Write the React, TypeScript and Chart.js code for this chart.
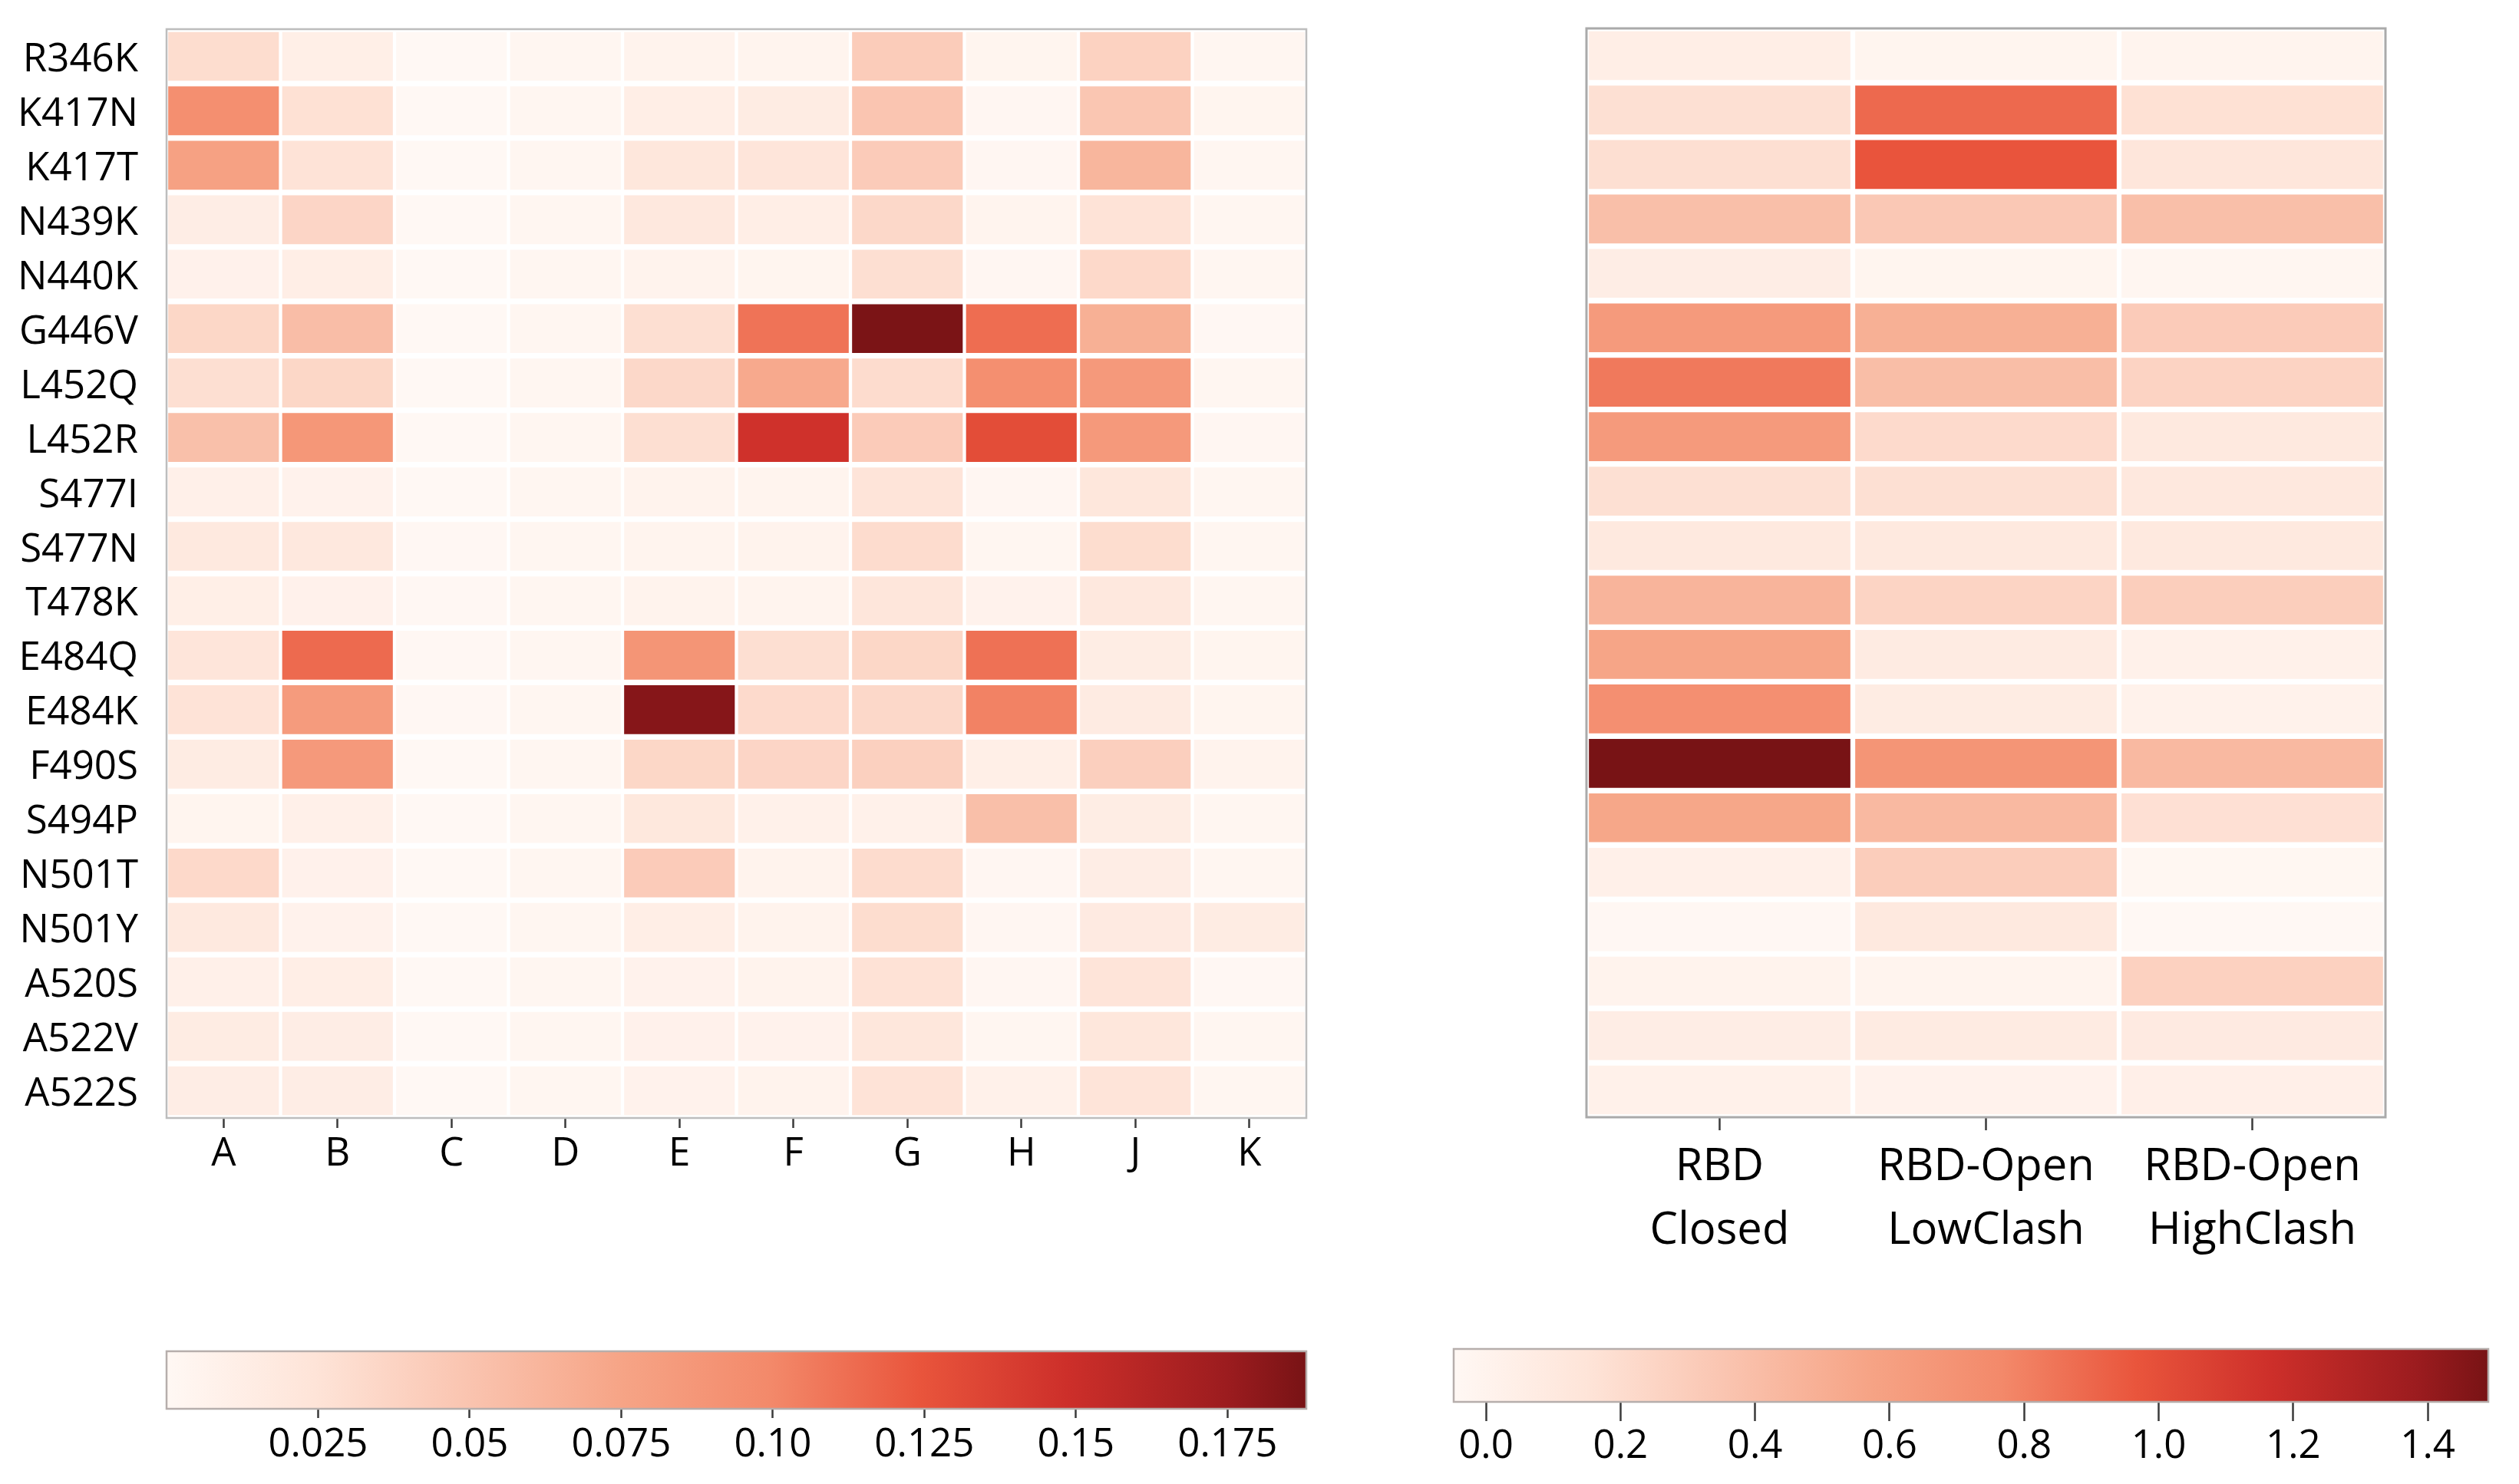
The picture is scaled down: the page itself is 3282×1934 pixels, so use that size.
import React, { useEffect, useRef } from 'react';
import { Chart, registerables } from 'chart.js';

Chart.register(...registerables);
Chart.defaults.font.family = "'Open Sans', 'Noto Sans', sans-serif";
Chart.defaults.color = '#000000';

// ---------- data ----------
const ROWS = [
  'R346K', 'K417N', 'K417T', 'N439K', 'N440K', 'G446V', 'L452Q', 'L452R', 'S477I', 'S477N',
  'T478K', 'E484Q', 'E484K', 'F490S', 'S494P', 'N501T', 'N501Y', 'A520S', 'A522V', 'A522S',
];

const ANTIBODY_COLS = ['A', 'B', 'C', 'D', 'E', 'F', 'G', 'H', 'J', 'K'];

const STATE_COLS = [
  ['RBD', 'Closed'],
  ['RBD-Open', 'LowClash'],
  ['RBD-Open', 'HighClash'],
];

// rows follow ROWS, columns follow ANTIBODY_COLS
const ANTIBODY_VALUES = [
  [0.030, 0.011, 0.000, 0.003, 0.006, 0.005, 0.043, 0.004, 0.039, 0.003],
  [0.094, 0.027, 0.000, 0.003, 0.012, 0.015, 0.049, 0.002, 0.048, 0.004],
  [0.078, 0.025, 0.000, 0.003, 0.021, 0.023, 0.044, 0.002, 0.061, 0.003],
  [0.013, 0.036, 0.000, 0.003, 0.019, 0.012, 0.034, 0.005, 0.025, 0.003],
  [0.008, 0.012, 0.000, 0.003, 0.006, 0.004, 0.028, 0.002, 0.033, 0.003],
  [0.035, 0.055, 0.000, 0.003, 0.028, 0.110, 0.187, 0.113, 0.066, 0.001],
  [0.028, 0.035, 0.000, 0.003, 0.034, 0.071, 0.031, 0.094, 0.085, 0.003],
  [0.053, 0.087, 0.000, 0.003, 0.028, 0.147, 0.044, 0.129, 0.085, 0.002],
  [0.010, 0.007, 0.000, 0.003, 0.006, 0.005, 0.024, 0.002, 0.021, 0.003],
  [0.018, 0.019, 0.001, 0.003, 0.005, 0.006, 0.031, 0.003, 0.030, 0.003],
  [0.011, 0.008, 0.001, 0.003, 0.006, 0.005, 0.022, 0.007, 0.019, 0.003],
  [0.023, 0.114, 0.001, 0.003, 0.089, 0.028, 0.035, 0.111, 0.014, 0.004],
  [0.025, 0.083, 0.001, 0.003, 0.183, 0.032, 0.034, 0.103, 0.016, 0.004],
  [0.015, 0.085, 0.000, 0.003, 0.035, 0.036, 0.040, 0.011, 0.041, 0.006],
  [0.004, 0.010, 0.000, 0.003, 0.020, 0.009, 0.009, 0.054, 0.014, 0.003],
  [0.033, 0.008, 0.000, 0.003, 0.044, 0.006, 0.031, 0.002, 0.013, 0.003],
  [0.018, 0.007, 0.000, 0.003, 0.012, 0.006, 0.030, 0.002, 0.017, 0.015],
  [0.010, 0.012, 0.000, 0.003, 0.007, 0.006, 0.026, 0.002, 0.024, 0.001],
  [0.015, 0.013, 0.000, 0.003, 0.008, 0.007, 0.021, 0.003, 0.021, 0.003],
  [0.013, 0.013, 0.000, 0.003, 0.007, 0.006, 0.025, 0.009, 0.024, 0.003],
];

// rows follow ROWS, columns follow STATE_COLS
const STATE_VALUES = [
  [0.05, -0.015, -0.005],
  [0.18, 0.89, 0.17],
  [0.185, 0.97, 0.13],
  [0.39, 0.33, 0.39],
  [0.06, -0.015, -0.025],
  [0.64, 0.49, 0.31],
  [0.83, 0.40, 0.26],
  [0.64, 0.215, 0.10],
  [0.18, 0.18, 0.11],
  [0.10, 0.10, 0.10],
  [0.46, 0.255, 0.295],
  [0.56, 0.08, 0.02],
  [0.72, 0.075, 0.015],
  [1.49, 0.68, 0.43],
  [0.55, 0.43, 0.175],
  [0.03, 0.30, -0.035],
  [-0.04, 0.10, -0.045],
  [0.0, -0.005, 0.275],
  [0.06, 0.08, 0.09],
  [0.02, 0.01, 0.04],
];

const ANTIBODY_RANGE = [0, 0.188];
const STATE_RANGE = [-0.048, 1.49];

const ANTIBODY_TICKS = [0.025, 0.05, 0.075, 0.1, 0.125, 0.15, 0.175];
const ANTIBODY_TICK_LABELS = ['0.025', '0.05', '0.075', '0.10', '0.125', '0.15', '0.175'];
const STATE_TICKS = [0, 0.2, 0.4, 0.6, 0.8, 1.0, 1.2, 1.4];
const STATE_TICK_LABELS = ['0.0', '0.2', '0.4', '0.6', '0.8', '1.0', '1.2', '1.4'];

const COLOR_STOPS: [number, string][] = [
  [0.0, '#fff8f4'],
  [0.13, '#fee4d8'],
  [0.26, '#fac5b1'],
  [0.4, '#f6a486'],
  [0.53, '#f3896a'],
  [0.66, '#e9553c'],
  [0.79, '#cd2f2a'],
  [0.93, '#9c1c1f'],
  [1.0, '#781315'],
];

// ---------- helpers ----------
function hexToRgb(h: string) {
  return [parseInt(h.slice(1, 3), 16), parseInt(h.slice(3, 5), 16), parseInt(h.slice(5, 7), 16)];
}

function colorAt(f: number) {
  const t = Math.max(0, Math.min(1, f));
  for (let i = 1; i < COLOR_STOPS.length; i++) {
    const [p1, c1] = COLOR_STOPS[i];
    if (t <= p1) {
      const [p0, c0] = COLOR_STOPS[i - 1];
      const k = (t - p0) / (p1 - p0);
      const a = hexToRgb(c0);
      const b = hexToRgb(c1);
      const m = a.map((v, j) => Math.round(v + (b[j] - v) * k));
      return `rgb(${m[0]},${m[1]},${m[2]})`;
    }
  }
  return COLOR_STOPS[COLOR_STOPS.length - 1][1];
}

function valueColor(v: number, range: number[]) {
  return colorAt((v - range[0]) / (range[1] - range[0]));
}

const framePlugin = {
  id: 'frame',
  afterDraw(chart: any, _args: any, opts: any) {
    const { ctx, chartArea: a } = chart;
    ctx.save();
    ctx.strokeStyle = opts.color || '#bbbbbb';
    ctx.lineWidth = opts.width || 2.5;
    ctx.strokeRect(a.left, a.top, a.right - a.left, a.bottom - a.top);
    ctx.restore();
  },
};

type HeatOpts = {
  labels: any[];
  values: number[][];
  range: number[];
  border: { top: number; bottom: number; left: number; right: number };
  padding: { top: number; right: number; bottom: number; left: number };
  showY: boolean;
  yWidth: number;
  xHeight: number;
  tickLength: number;
  fontSize: number;
  lineHeight: number;
  labelPadding: number;
  frameColor: string;
  frameWidth: number;
};

function heatmapConfig(o: HeatOpts): any {
  const datasets = ROWS.map((row, r) => ({
    label: row,
    data: o.labels.map(() => 1),
    backgroundColor: o.values[r].map((v) => valueColor(v, o.range)),
    borderColor: '#ffffff',
    borderWidth: o.border,
    borderSkipped: false,
    barPercentage: 1,
    categoryPercentage: 1,
    stack: 'cells',
  }));
  return {
    type: 'bar',
    data: { labels: o.labels, datasets },
    plugins: [framePlugin],
    options: {
      responsive: false,
      animation: false,
      layout: { padding: o.padding },
      plugins: {
        legend: { display: false },
        tooltip: { enabled: false },
        frame: { color: o.frameColor, width: o.frameWidth },
      },
      scales: {
        x: {
          type: 'category',
          stacked: true,
          offset: true,
          grid: {
            display: true,
            drawOnChartArea: false,
            drawTicks: true,
            offset: false,
            tickLength: o.tickLength,
            tickWidth: 2.5,
            tickColor: '#3a3a3a',
          },
          border: { display: false },
          ticks: {
            autoSkip: false,
            maxRotation: 0,
            padding: o.labelPadding,
            color: '#000000',
            font: { size: o.fontSize, lineHeight: o.lineHeight },
          },
          afterFit: (scale: any) => {
            scale.height = o.xHeight;
            scale.paddingLeft = 0;
            scale.paddingRight = 0;
          },
        },
        y: {
          type: 'linear',
          stacked: true,
          min: 0,
          max: ROWS.length,
          reverse: true,
          display: o.showY,
          // labels sit slightly below the row centres, as in the original
          afterBuildTicks: (scale: any) => {
            scale.ticks = ROWS.map((_, i) => ({ value: i + 0.57 }));
          },
          afterFit: (scale: any) => {
            scale.width = o.yWidth;
            scale.paddingTop = 0;
            scale.paddingBottom = 0;
          },
          grid: { display: false, drawTicks: false },
          border: { display: false },
          ticks: {
            autoSkip: false,
            padding: 37,
            color: '#000000',
            font: { size: 51 },
            callback: (v: any) => ROWS[Math.floor(Number(v))],
          },
        },
      },
    },
  };
}

type BarOpts = {
  range: number[];
  ticks: number[];
  tickLabels: string[];
  padding: { top: number; right: number; bottom: number; left: number };
  xHeight: number;
  tickLength: number;
  labelPadding: number;
};

function colorbarConfig(o: BarOpts): any {
  return {
    type: 'bar',
    data: {
      labels: [''],
      datasets: [
        {
          data: [[o.range[0], o.range[1]]],
          barPercentage: 1,
          categoryPercentage: 1,
          borderWidth: 0,
          backgroundColor: (ctx: any) => {
            const area = ctx.chart.chartArea;
            if (!area) return '#fff5f0';
            const g = ctx.chart.ctx.createLinearGradient(area.left, 0, area.right, 0);
            COLOR_STOPS.forEach(([p, c]) => g.addColorStop(p, c));
            return g;
          },
        },
      ],
    },
    plugins: [framePlugin],
    options: {
      indexAxis: 'y',
      responsive: false,
      animation: false,
      layout: { padding: o.padding },
      plugins: {
        legend: { display: false },
        tooltip: { enabled: false },
        frame: { color: '#b6aeac', width: 2.5 },
      },
      scales: {
        x: {
          type: 'linear',
          min: o.range[0],
          max: o.range[1],
          afterBuildTicks: (scale: any) => {
            scale.ticks = o.ticks.map((value) => ({ value }));
          },
          afterFit: (scale: any) => {
            scale.height = o.xHeight;
            scale.paddingLeft = 0;
            scale.paddingRight = 0;
          },
          grid: {
            display: true,
            drawOnChartArea: false,
            drawTicks: true,
            tickLength: o.tickLength,
            tickWidth: 2.5,
            tickColor: '#3a3a3a',
          },
          border: { display: false },
          ticks: {
            autoSkip: false,
            maxRotation: 0,
            padding: o.labelPadding,
            color: '#000000',
            font: { size: 51 },
            callback: (_v: any, i: number) => o.tickLabels[i],
          },
        },
        y: { display: false },
      },
    },
  };
}

function ChartCanvas(props: { make: () => any; left: number; top: number; width: number; height: number }) {
  const ref = useRef<HTMLCanvasElement | null>(null);
  useEffect(() => {
    const chart = new Chart(ref.current as HTMLCanvasElement, props.make());
    return () => chart.destroy();
  }, []);
  return (
    <canvas
      ref={ref}
      width={props.width}
      height={props.height}
      style={{ position: 'absolute', left: props.left, top: props.top, width: props.width, height: props.height }}
    />
  );
}

export default function App() {
  return (
    <div style={{ position: 'fixed', left: 0, top: 0, width: 3282, height: 1934, background: '#ffffff', overflow: 'hidden' }}>
      <ChartCanvas
        left={0}
        top={0}
        width={1760}
        height={1560}
        make={() =>
          heatmapConfig({
            labels: ANTIBODY_COLS,
            values: ANTIBODY_VALUES,
            range: ANTIBODY_RANGE,
            border: { top: 4, bottom: 4, left: 2.5, right: 2.5 },
            padding: { top: 38, right: 58, bottom: 0, left: 0 },
            showY: true,
            yWidth: 217,
            xHeight: 1560 - 1457,
            tickLength: 13,
            fontSize: 51,
            lineHeight: 1.2,
            labelPadding: 4,
            frameColor: '#bdbdbd',
            frameWidth: 2.5,
          })
        }
      />
      <ChartCanvas
        left={1960}
        top={0}
        width={1300}
        height={1700}
        make={() =>
          heatmapConfig({
            labels: STATE_COLS,
            values: STATE_VALUES,
            range: STATE_RANGE,
            border: { top: 4, bottom: 4, left: 3.5, right: 3.5 },
            padding: { top: 37, right: 1960 + 1300 - 3108, bottom: 0, left: 2067 - 1960 },
            showY: false,
            yWidth: 0,
            xHeight: 1700 - 1456,
            tickLength: 17,
            fontSize: 58,
            lineHeight: 1.43,
            labelPadding: 7,
            frameColor: '#aaaaaa',
            frameWidth: 3,
          })
        }
      />
      <ChartCanvas
        left={0}
        top={1700}
        width={1760}
        height={234}
        make={() =>
          colorbarConfig({
            range: ANTIBODY_RANGE,
            ticks: ANTIBODY_TICKS,
            tickLabels: ANTIBODY_TICK_LABELS,
            padding: { top: 61, right: 58, bottom: 0, left: 217 },
            xHeight: 234 - 136,
            tickLength: 12,
            labelPadding: 5,
          })
        }
      />
      <ChartCanvas
        left={1860}
        top={1700}
        width={1422}
        height={234}
        make={() =>
          colorbarConfig({
            range: STATE_RANGE,
            ticks: STATE_TICKS,
            tickLabels: STATE_TICK_LABELS,
            padding: { top: 58, right: 40, bottom: 0, left: 34 },
            xHeight: 234 - 127,
            tickLength: 25,
            labelPadding: 3,
          })
        }
      />
    </div>
  );
}
